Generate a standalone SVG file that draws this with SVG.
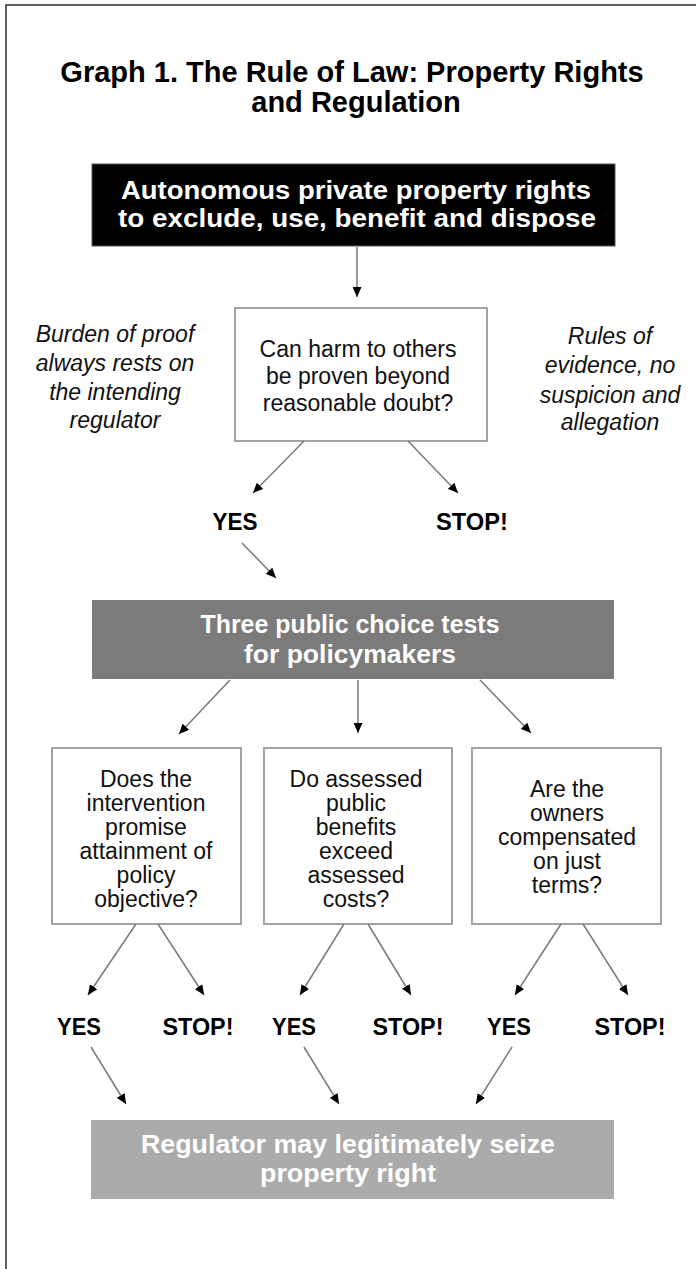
<svg xmlns="http://www.w3.org/2000/svg" width="696" height="1269" viewBox="0 0 696 1269">
<defs>
<marker id="ah" markerUnits="userSpaceOnUse" markerWidth="11" markerHeight="9" refX="10" refY="4.5" orient="auto">
<path d="M0,0 L10,4.5 L0,9 z" fill="#000"/>
</marker>
<style>
.frame{fill:none;stroke:#2a2a2a;stroke-width:1.5}
.title{font-family:"Liberation Sans",Arial,sans-serif;font-weight:bold;font-size:29px;fill:#000;text-anchor:middle}
.wb{font-family:"Liberation Sans",Arial,sans-serif;font-weight:bold;font-size:25px;fill:#fff;text-anchor:middle}
.reg{font-family:"Liberation Sans",Arial,sans-serif;font-size:23px;fill:#111;text-anchor:middle}
.it{font-family:"Liberation Sans",Arial,sans-serif;font-style:italic;font-size:23px;fill:#111;text-anchor:middle}
.lab{font-family:"Liberation Sans",Arial,sans-serif;font-weight:bold;font-size:24px;fill:#000;text-anchor:middle}
.box{fill:#fff;stroke:#9a9a9a;stroke-width:1.8}
.conn line{stroke:#7a7a7a;stroke-width:1.5;marker-end:url(#ah)}
</style>
</defs>
<rect x="0" y="0" width="696" height="1269" fill="#fff"/>
<path class="frame" d="M6,1269 L6,5 L696,5"/>

<g id="title">
<text class="title" x="352" y="82">Graph 1. The Rule of Law: Property Rights</text>
<text class="title" x="356" y="112">and Regulation</text>
</g>

<g id="node-rights">
<rect x="92" y="164" width="523" height="82" fill="#000" stroke="#555" stroke-width="1"/>
<text class="wb" x="356" y="199" textLength="470" lengthAdjust="spacingAndGlyphs">Autonomous private property rights</text>
<text class="wb" x="357" y="227" textLength="478" lengthAdjust="spacingAndGlyphs">to exclude, use, benefit and dispose</text>
</g>

<g id="note-left">
<text class="it" x="115" y="342">Burden of proof</text>
<text class="it" x="115" y="371">always rests on</text>
<text class="it" x="115" y="400">the intending</text>
<text class="it" x="115" y="428">regulator</text>
</g>

<g id="note-right">
<text class="it" x="610" y="344">Rules of</text>
<text class="it" x="610" y="373">evidence, no</text>
<text class="it" x="610" y="403">suspicion and</text>
<text class="it" x="610" y="430">allegation</text>
</g>

<g id="node-harm">
<rect class="box" x="235" y="308" width="252" height="133"/>
<text class="reg" x="358" y="357">Can harm to others</text>
<text class="reg" x="358" y="384">be proven beyond</text>
<text class="reg" x="358" y="411">reasonable doubt?</text>
</g>

<g id="label-yes-0"><text class="lab" x="235" y="530" textLength="45" lengthAdjust="spacingAndGlyphs">YES</text></g>
<g id="label-stop-0"><text class="lab" x="472" y="530" textLength="72" lengthAdjust="spacingAndGlyphs">STOP!</text></g>

<g id="node-tests">
<rect x="92" y="600" width="522" height="79" fill="#7b7b7b"/>
<text class="wb" x="350" y="633" textLength="299" lengthAdjust="spacingAndGlyphs">Three public choice tests</text>
<text class="wb" x="350" y="663" textLength="212" lengthAdjust="spacingAndGlyphs">for policymakers</text>
</g>

<g id="node-test1">
<rect class="box" x="52" y="748" width="189" height="176"/>
<text class="reg" x="146" y="787">Does the</text>
<text class="reg" x="146" y="811">intervention</text>
<text class="reg" x="146" y="835">promise</text>
<text class="reg" x="146" y="859">attainment of</text>
<text class="reg" x="146" y="883">policy</text>
<text class="reg" x="146" y="907">objective?</text>
</g>

<g id="node-test2">
<rect class="box" x="264" y="748" width="188" height="176"/>
<text class="reg" x="356" y="787">Do assessed</text>
<text class="reg" x="356" y="811">public</text>
<text class="reg" x="356" y="835">benefits</text>
<text class="reg" x="356" y="859">exceed</text>
<text class="reg" x="356" y="883">assessed</text>
<text class="reg" x="356" y="907">costs?</text>
</g>

<g id="node-test3">
<rect class="box" x="472" y="748" width="189" height="176"/>
<text class="reg" x="567" y="797">Are the</text>
<text class="reg" x="567" y="821">owners</text>
<text class="reg" x="567" y="845">compensated</text>
<text class="reg" x="567" y="869">on just</text>
<text class="reg" x="567" y="893">terms?</text>
</g>

<g id="label-yes-1"><text class="lab" x="79" y="1035" textLength="44" lengthAdjust="spacingAndGlyphs">YES</text></g>
<g id="label-stop-1"><text class="lab" x="198" y="1035" textLength="71" lengthAdjust="spacingAndGlyphs">STOP!</text></g>
<g id="label-yes-2"><text class="lab" x="294" y="1035" textLength="44" lengthAdjust="spacingAndGlyphs">YES</text></g>
<g id="label-stop-2"><text class="lab" x="408" y="1035" textLength="71" lengthAdjust="spacingAndGlyphs">STOP!</text></g>
<g id="label-yes-3"><text class="lab" x="509" y="1035" textLength="44" lengthAdjust="spacingAndGlyphs">YES</text></g>
<g id="label-stop-3"><text class="lab" x="630" y="1035" textLength="71" lengthAdjust="spacingAndGlyphs">STOP!</text></g>

<g id="node-seize">
<rect x="91" y="1120" width="523" height="79" fill="#ababab"/>
<text class="wb" x="348" y="1153" textLength="414" lengthAdjust="spacingAndGlyphs">Regulator may legitimately seize</text>
<text class="wb" x="348" y="1182" textLength="176" lengthAdjust="spacingAndGlyphs">property right</text>
</g>

<g id="connectors" class="conn">
<line x1="357" y1="247" x2="357" y2="297"/>
<line x1="304" y1="441" x2="253" y2="493"/>
<line x1="408" y1="441" x2="458" y2="493"/>
<line x1="242" y1="543" x2="276" y2="578"/>
<line x1="230" y1="680" x2="179" y2="734"/>
<line x1="358" y1="680" x2="358" y2="733"/>
<line x1="480" y1="680" x2="531" y2="733"/>
<line x1="136" y1="924" x2="88" y2="995"/>
<line x1="158" y1="924" x2="204" y2="995"/>
<line x1="344" y1="924" x2="300" y2="995"/>
<line x1="368" y1="924" x2="411" y2="995"/>
<line x1="561" y1="924" x2="515" y2="995"/>
<line x1="583" y1="924" x2="628" y2="995"/>
<line x1="91" y1="1047" x2="126" y2="1104"/>
<line x1="304" y1="1047" x2="339" y2="1104"/>
<line x1="512" y1="1047" x2="476" y2="1104"/>
</g>
</svg>
